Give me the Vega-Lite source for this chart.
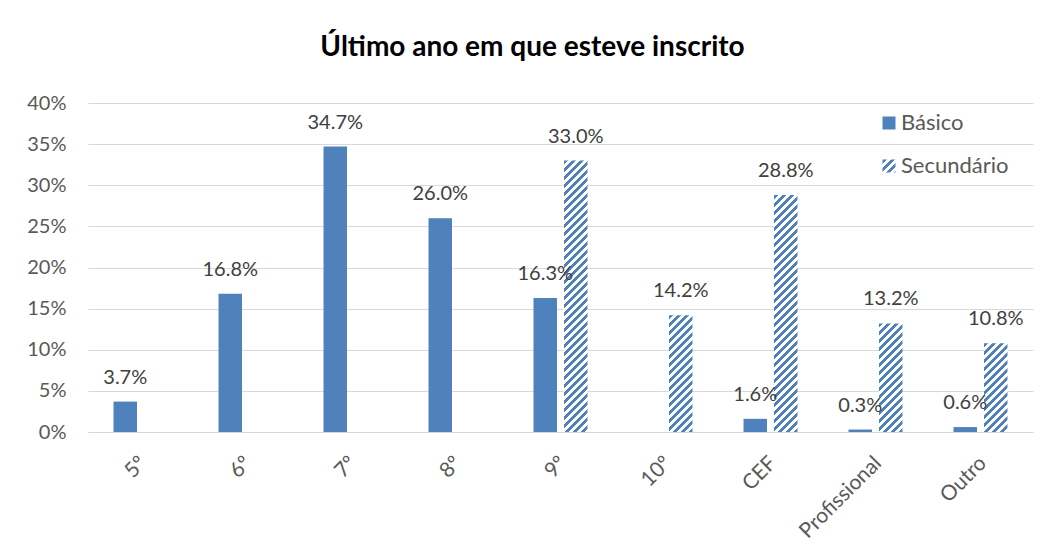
{
  "$schema": "https://vega.github.io/schema/vega-lite/v6.json",
  "width": 945,
  "height": 329,
  "autosize": {"type": "none"},
  "padding": {"left": 88, "top": 103, "right": 14, "bottom": 127},
  "background": "white",
  "params": [
    {"name": "hatch", "value": [
      {"offset": 0, "color": "#4F81BD"}, {"offset": 0.0125, "color": "#4F81BD"}, {"offset": 0.0125, "color": "#FFFFFF"}, {"offset": 0.025, "color": "#FFFFFF"},
      {"offset": 0.025, "color": "#4F81BD"}, {"offset": 0.0375, "color": "#4F81BD"}, {"offset": 0.0375, "color": "#FFFFFF"}, {"offset": 0.05, "color": "#FFFFFF"},
      {"offset": 0.05, "color": "#4F81BD"}, {"offset": 0.0625, "color": "#4F81BD"}, {"offset": 0.0625, "color": "#FFFFFF"}, {"offset": 0.075, "color": "#FFFFFF"},
      {"offset": 0.075, "color": "#4F81BD"}, {"offset": 0.0875, "color": "#4F81BD"}, {"offset": 0.0875, "color": "#FFFFFF"}, {"offset": 0.1, "color": "#FFFFFF"},
      {"offset": 0.1, "color": "#4F81BD"}, {"offset": 0.1125, "color": "#4F81BD"}, {"offset": 0.1125, "color": "#FFFFFF"}, {"offset": 0.125, "color": "#FFFFFF"},
      {"offset": 0.125, "color": "#4F81BD"}, {"offset": 0.1375, "color": "#4F81BD"}, {"offset": 0.1375, "color": "#FFFFFF"}, {"offset": 0.15, "color": "#FFFFFF"},
      {"offset": 0.15, "color": "#4F81BD"}, {"offset": 0.1625, "color": "#4F81BD"}, {"offset": 0.1625, "color": "#FFFFFF"}, {"offset": 0.175, "color": "#FFFFFF"},
      {"offset": 0.175, "color": "#4F81BD"}, {"offset": 0.1875, "color": "#4F81BD"}, {"offset": 0.1875, "color": "#FFFFFF"}, {"offset": 0.2, "color": "#FFFFFF"},
      {"offset": 0.2, "color": "#4F81BD"}, {"offset": 0.2125, "color": "#4F81BD"}, {"offset": 0.2125, "color": "#FFFFFF"}, {"offset": 0.225, "color": "#FFFFFF"},
      {"offset": 0.225, "color": "#4F81BD"}, {"offset": 0.2375, "color": "#4F81BD"}, {"offset": 0.2375, "color": "#FFFFFF"}, {"offset": 0.25, "color": "#FFFFFF"},
      {"offset": 0.25, "color": "#4F81BD"}, {"offset": 0.2625, "color": "#4F81BD"}, {"offset": 0.2625, "color": "#FFFFFF"}, {"offset": 0.275, "color": "#FFFFFF"},
      {"offset": 0.275, "color": "#4F81BD"}, {"offset": 0.2875, "color": "#4F81BD"}, {"offset": 0.2875, "color": "#FFFFFF"}, {"offset": 0.3, "color": "#FFFFFF"},
      {"offset": 0.3, "color": "#4F81BD"}, {"offset": 0.3125, "color": "#4F81BD"}, {"offset": 0.3125, "color": "#FFFFFF"}, {"offset": 0.325, "color": "#FFFFFF"},
      {"offset": 0.325, "color": "#4F81BD"}, {"offset": 0.3375, "color": "#4F81BD"}, {"offset": 0.3375, "color": "#FFFFFF"}, {"offset": 0.35, "color": "#FFFFFF"},
      {"offset": 0.35, "color": "#4F81BD"}, {"offset": 0.3625, "color": "#4F81BD"}, {"offset": 0.3625, "color": "#FFFFFF"}, {"offset": 0.375, "color": "#FFFFFF"},
      {"offset": 0.375, "color": "#4F81BD"}, {"offset": 0.3875, "color": "#4F81BD"}, {"offset": 0.3875, "color": "#FFFFFF"}, {"offset": 0.4, "color": "#FFFFFF"},
      {"offset": 0.4, "color": "#4F81BD"}, {"offset": 0.4125, "color": "#4F81BD"}, {"offset": 0.4125, "color": "#FFFFFF"}, {"offset": 0.425, "color": "#FFFFFF"},
      {"offset": 0.425, "color": "#4F81BD"}, {"offset": 0.4375, "color": "#4F81BD"}, {"offset": 0.4375, "color": "#FFFFFF"}, {"offset": 0.45, "color": "#FFFFFF"},
      {"offset": 0.45, "color": "#4F81BD"}, {"offset": 0.4625, "color": "#4F81BD"}, {"offset": 0.4625, "color": "#FFFFFF"}, {"offset": 0.475, "color": "#FFFFFF"},
      {"offset": 0.475, "color": "#4F81BD"}, {"offset": 0.4875, "color": "#4F81BD"}, {"offset": 0.4875, "color": "#FFFFFF"}, {"offset": 0.5, "color": "#FFFFFF"},
      {"offset": 0.5, "color": "#4F81BD"}, {"offset": 0.5125, "color": "#4F81BD"}, {"offset": 0.5125, "color": "#FFFFFF"}, {"offset": 0.525, "color": "#FFFFFF"},
      {"offset": 0.525, "color": "#4F81BD"}, {"offset": 0.5375, "color": "#4F81BD"}, {"offset": 0.5375, "color": "#FFFFFF"}, {"offset": 0.55, "color": "#FFFFFF"},
      {"offset": 0.55, "color": "#4F81BD"}, {"offset": 0.5625, "color": "#4F81BD"}, {"offset": 0.5625, "color": "#FFFFFF"}, {"offset": 0.575, "color": "#FFFFFF"},
      {"offset": 0.575, "color": "#4F81BD"}, {"offset": 0.5875, "color": "#4F81BD"}, {"offset": 0.5875, "color": "#FFFFFF"}, {"offset": 0.6, "color": "#FFFFFF"},
      {"offset": 0.6, "color": "#4F81BD"}, {"offset": 0.6125, "color": "#4F81BD"}, {"offset": 0.6125, "color": "#FFFFFF"}, {"offset": 0.625, "color": "#FFFFFF"},
      {"offset": 0.625, "color": "#4F81BD"}, {"offset": 0.6375, "color": "#4F81BD"}, {"offset": 0.6375, "color": "#FFFFFF"}, {"offset": 0.65, "color": "#FFFFFF"},
      {"offset": 0.65, "color": "#4F81BD"}, {"offset": 0.6625, "color": "#4F81BD"}, {"offset": 0.6625, "color": "#FFFFFF"}, {"offset": 0.675, "color": "#FFFFFF"},
      {"offset": 0.675, "color": "#4F81BD"}, {"offset": 0.6875, "color": "#4F81BD"}, {"offset": 0.6875, "color": "#FFFFFF"}, {"offset": 0.7, "color": "#FFFFFF"},
      {"offset": 0.7, "color": "#4F81BD"}, {"offset": 0.7125, "color": "#4F81BD"}, {"offset": 0.7125, "color": "#FFFFFF"}, {"offset": 0.725, "color": "#FFFFFF"},
      {"offset": 0.725, "color": "#4F81BD"}, {"offset": 0.7375, "color": "#4F81BD"}, {"offset": 0.7375, "color": "#FFFFFF"}, {"offset": 0.75, "color": "#FFFFFF"},
      {"offset": 0.75, "color": "#4F81BD"}, {"offset": 0.7625, "color": "#4F81BD"}, {"offset": 0.7625, "color": "#FFFFFF"}, {"offset": 0.775, "color": "#FFFFFF"},
      {"offset": 0.775, "color": "#4F81BD"}, {"offset": 0.7875, "color": "#4F81BD"}, {"offset": 0.7875, "color": "#FFFFFF"}, {"offset": 0.8, "color": "#FFFFFF"},
      {"offset": 0.8, "color": "#4F81BD"}, {"offset": 0.8125, "color": "#4F81BD"}, {"offset": 0.8125, "color": "#FFFFFF"}, {"offset": 0.825, "color": "#FFFFFF"},
      {"offset": 0.825, "color": "#4F81BD"}, {"offset": 0.8375, "color": "#4F81BD"}, {"offset": 0.8375, "color": "#FFFFFF"}, {"offset": 0.85, "color": "#FFFFFF"},
      {"offset": 0.85, "color": "#4F81BD"}, {"offset": 0.8625, "color": "#4F81BD"}, {"offset": 0.8625, "color": "#FFFFFF"}, {"offset": 0.875, "color": "#FFFFFF"},
      {"offset": 0.875, "color": "#4F81BD"}, {"offset": 0.8875, "color": "#4F81BD"}, {"offset": 0.8875, "color": "#FFFFFF"}, {"offset": 0.9, "color": "#FFFFFF"},
      {"offset": 0.9, "color": "#4F81BD"}, {"offset": 0.9125, "color": "#4F81BD"}, {"offset": 0.9125, "color": "#FFFFFF"}, {"offset": 0.925, "color": "#FFFFFF"},
      {"offset": 0.925, "color": "#4F81BD"}, {"offset": 0.9375, "color": "#4F81BD"}, {"offset": 0.9375, "color": "#FFFFFF"}, {"offset": 0.95, "color": "#FFFFFF"},
      {"offset": 0.95, "color": "#4F81BD"}, {"offset": 0.9625, "color": "#4F81BD"}, {"offset": 0.9625, "color": "#FFFFFF"}, {"offset": 0.975, "color": "#FFFFFF"},
      {"offset": 0.975, "color": "#4F81BD"}, {"offset": 0.9875, "color": "#4F81BD"}, {"offset": 0.9875, "color": "#FFFFFF"}, {"offset": 1, "color": "#FFFFFF"}
    ]},
    {"name": "hatchLegend", "expr": "{gradient: 'linear', x1: 0, y1: 0, x2: 12.31, y2: 12.31, stops: hatch}"}
  ],
  "title": {
    "text": "Último ano em que esteve inscrito",
    "font": "Lato",
    "fontSize": 28,
    "fontWeight": "bold",
    "color": "#000000",
    "anchor": "middle",
    "frame": "group",
    "dx": -28,
    "baseline": "alphabetic",
    "offset": 9
  },
  "data": {
    "values": [
      {"cat": "5º", "series": "Básico", "pct": 0.037},
      {"cat": "6º", "series": "Básico", "pct": 0.168},
      {"cat": "7º", "series": "Básico", "pct": 0.347},
      {"cat": "8º", "series": "Básico", "pct": 0.260},
      {"cat": "9º", "series": "Básico", "pct": 0.163},
      {"cat": "9º", "series": "Secundário", "pct": 0.330},
      {"cat": "10º", "series": "Secundário", "pct": 0.142},
      {"cat": "CEF", "series": "Básico", "pct": 0.016},
      {"cat": "CEF", "series": "Secundário", "pct": 0.288},
      {"cat": "Profissional", "series": "Básico", "pct": 0.003},
      {"cat": "Profissional", "series": "Secundário", "pct": 0.132},
      {"cat": "Outro", "series": "Básico", "pct": 0.006},
      {"cat": "Outro", "series": "Secundário", "pct": 0.108}
    ]
  },
  "encoding": {
    "x": {
      "field": "cat",
      "type": "nominal",
      "sort": ["5º", "6º", "7º", "8º", "9º", "10º", "CEF", "Profissional", "Outro"],
      "scale": {"paddingInner": 0.486, "paddingOuter": 0.243},
      "axis": {
        "title": null,
        "labelAngle": -45,
        "labelAlign": "right",
        "labelBaseline": "top",
        "labelPadding": 20,
        "labelOffset": -5,
        "labelFont": "Lato",
        "labelFontSize": 21,
        "labelColor": "#595959",
        "ticks": false,
        "domain": true,
        "domainColor": "#D9D9D9",
        "domainWidth": 1,
        "grid": false
      }
    },
    "xOffset": {
      "field": "series",
      "type": "nominal",
      "scale": {"domain": ["Básico", "Secundário"], "paddingInner": 0.23, "paddingOuter": 0}
    },
    "y": {
      "field": "pct",
      "type": "quantitative",
      "scale": {"domain": [0, 0.4], "nice": false},
      "axis": {
        "title": null,
        "values": [0, 0.05, 0.1, 0.15, 0.2, 0.25, 0.3, 0.35, 0.4],
        "format": ".0%",
        "labelFont": "Lato",
        "labelFontSize": 20,
        "labelColor": "#595959",
        "labelPadding": 22,
        "ticks": false,
        "domain": false,
        "grid": true,
        "gridColor": "#D9D9D9",
        "gridWidth": 1
      }
    }
  },
  "layer": [
    {
      "mark": {"type": "bar"},
      "encoding": {
        "fill": {
          "field": "series",
          "type": "nominal",
          "scale": {"domain": ["Básico", "Secundário"], "range": ["#4F81BD", {"expr": "hatchLegend"}]},
          "condition": {
            "test": "datum.series === 'Secundário'",
            "value": {"expr": "{gradient: 'linear', x1: 0, y1: 0, x2: 320 * bandwidth('xOffset') / (pow(bandwidth('xOffset'), 2) + pow(scale('y', 0) - scale('y', datum.pct), 2)), y2: 320 * (scale('y', 0) - scale('y', datum.pct)) / (pow(bandwidth('xOffset'), 2) + pow(scale('y', 0) - scale('y', datum.pct), 2)), stops: hatch}"}
          },
          "legend": {
            "title": null,
            "orient": "none",
            "legendX": 790,
            "legendY": 9,
            "padding": 0,
            "symbolType": "square",
            "symbolSize": 169,
            "symbolStrokeWidth": 0,
            "labelFont": "Lato",
            "labelFontSize": 22,
            "labelColor": "#595959",
            "labelOffset": 1,
            "rowPadding": 21
          }
        }
      }
    },
    {
      "mark": {
        "type": "text",
        "baseline": "alphabetic",
        "dy": -18,
        "font": "Lato",
        "fontSize": 20,
        "color": "#404040"
      },
      "encoding": {
        "text": {"field": "pct", "type": "quantitative", "format": ".1%"}
      }
    }
  ],
  "config": {
    "view": {"stroke": null}
  }
}
